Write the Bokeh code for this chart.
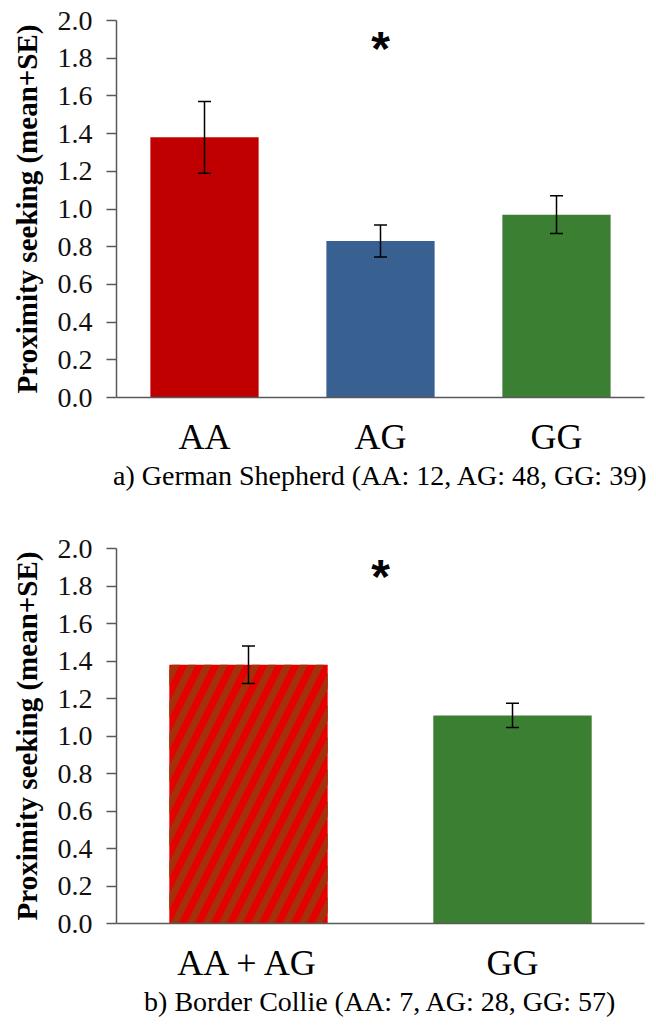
from bokeh.plotting import figure
from bokeh.models import (ColumnDataSource, Whisker, FixedTicker, Range1d, TeeHead,
                          FactorRange, NumeralTickFormatter)
from bokeh.layouts import column
from bokeh.core.properties import value
from bokeh.embed import file_html
from bokeh.resources import INLINE

# ---- data ----
gs_genotypes = ["AA", "AG", "GG"]
gs_means = [1.38, 0.83, 0.97]
gs_se = [0.19, 0.085, 0.10]
gs_colors = ["#c00000", "#386192", "#3b7f33"]
gs_hatch = [" ", " ", " "]
gs_caption = "a) German Shepherd (AA: 12, AG: 48, GG: 39)"
gs_star_x = [1.5]
gs_star_y = [1.85]

bc_groups = ["AA + AG", "GG"]
bc_means = [1.38, 1.11]
bc_se = [0.10, 0.065]
bc_colors = ["#e40000", "#3b7f33"]
bc_hatch = ["/", " "]
bc_caption = "b) Border Collie (AA: 7, AG: 28, GG: 57)"
bc_star_x = [1.0]
bc_star_y = [1.85]

y_ticks = [0.0, 0.2, 0.4, 0.6, 0.8, 1.0, 1.2, 1.4, 1.6, 1.8, 2.0]
y_label = "Proximity seeking (mean+SE)"
star_text = ["*"]

SERIF = "Liberation Serif"
AXIS_COLOR = "#595959"


def make_panel(cats, means, se, colors, hatch, caption, star_x, star_y,
               height, b_left, b_right, b_top, b_bottom, bar_width):
    upper = [m + s for m, s in zip(means, se)]
    lower = [m - s for m, s in zip(means, se)]
    src = ColumnDataSource(dict(x=cats, top=means, upper=upper, lower=lower,
                                color=colors, hatch=hatch))
    p = figure(x_range=FactorRange(*cats, range_padding=0), y_range=Range1d(0, 2.0),
               width=656, height=height, output_backend="svg",
               toolbar_location=None, min_border_left=b_left,
               min_border_right=b_right, min_border_top=b_top,
               min_border_bottom=b_bottom)
    p.outline_line_color = None
    p.xgrid.grid_line_color = None
    p.ygrid.grid_line_color = None

    p.vbar(x="x", top="top", width=bar_width, source=src, fill_color="color",
           line_color=None, hatch_pattern="hatch", hatch_color="#a3320a",
           hatch_scale=32, hatch_weight=7)

    head_kw = dict(size=13, line_color="black", line_width=1.5)
    w = Whisker(base="x", upper="upper", lower="lower", source=src,
                line_color="black", line_width=1.5, level="annotation",
                upper_head=TeeHead(**head_kw), lower_head=TeeHead(**head_kw))
    p.add_layout(w)

    p.text(x=star_x, y=star_y, text=star_text, text_font=value("Liberation Sans"),
           text_font_style="bold", text_font_size="48px", text_align="center",
           text_baseline="middle", text_color="black")

    # y axis
    ya = p.yaxis[0]
    ya.ticker = FixedTicker(ticks=y_ticks)
    ya.formatter = NumeralTickFormatter(format="0.0")
    ya.axis_line_color = AXIS_COLOR
    ya.axis_line_width = 1.5
    ya.major_tick_line_color = AXIS_COLOR
    ya.major_tick_line_width = 1.5
    ya.major_tick_out = 10
    ya.major_tick_in = 0
    ya.minor_tick_line_color = None
    ya.major_label_text_font = SERIF
    ya.major_label_text_font_size = "28px"
    ya.major_label_text_color = "#111111"
    ya.major_label_standoff = 14
    ya.axis_label = y_label
    ya.axis_label_text_font = SERIF
    ya.axis_label_text_font_style = "bold"
    ya.axis_label_text_font_size = "29px"
    ya.axis_label_text_color = "black"
    ya.axis_label_standoff = 12

    # x axis
    xa = p.xaxis[0]
    xa.axis_line_color = AXIS_COLOR
    xa.axis_line_width = 1.5
    xa.major_tick_line_color = None
    xa.minor_tick_line_color = None
    xa.major_label_text_font = SERIF
    xa.major_label_text_font_size = "36px"
    xa.major_label_text_color = "black"
    xa.major_label_standoff = 13
    xa.axis_label = caption
    xa.axis_label_text_font = SERIF
    xa.axis_label_text_font_style = "normal"
    xa.axis_label_text_font_size = "28px"
    xa.axis_label_text_color = "black"
    xa.axis_label_standoff = 0
    return p


p1 = make_panel(gs_genotypes, gs_means, gs_se, gs_colors, gs_hatch, gs_caption,
                gs_star_x, gs_star_y, 518, 116, 7, 20, 121, 0.615)
p2 = make_panel(bc_groups, bc_means, bc_se, bc_colors, bc_hatch, bc_caption,
                bc_star_x, bc_star_y, 512, 110, 12, 30, 107, 0.60)

layout = column(p1, p2, spacing=0)
open("out.html", "w").write(file_html(layout, INLINE))
